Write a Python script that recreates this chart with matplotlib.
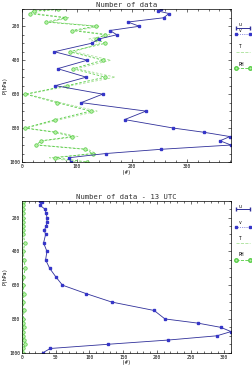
import numpy as np
import matplotlib
matplotlib.use("Agg")
import matplotlib.pyplot as plt
from matplotlib.lines import Line2D
from matplotlib.ticker import MultipleLocator

# pressure levels (hPa)
p = [100, 110, 125, 150, 175, 200, 225, 250, 275, 300, 350, 400, 450, 500,
     550, 600, 650, 700, 750, 800, 825, 850, 875, 900, 925, 950, 975, 1000]

# all hours
n_uv = [254, 248, 268, 258, 193, 214, 160, 173, 140, 127, 59, 119, 65, 117,
        61, 147, 108, 226, 187, 276, 332, 379, 361, 381, 254, 153, 85, 90]
n_rh = [66, 21, 14, 79, 44, 135, 91, 152, 134, 152, 87, 148, 93, 152,
        82, 6, 64, 125, 61, 5, 60, 92, 35, 26, 115, 129, 60, 118]
n_t = [80, 30, 25, 85, 52, 142, 100, 160, 122, 142, 95, 162, 100, 170,
       90, 10, 70, 137, 70, 8, 66, 102, 40, 32, 120, 135, 50, 100]

# 13 UTC
n_uv13 = [27, 29, 26, 34, 36, 37, 37, 36, 33, 35, 32, 37, 35, 41,
          50, 60, 95, 133, 196, 212, 261, 295, 310, 289, 217, 128, 42, 31]
n_rh13 = [1, 2, 1, 2, 1, 2, 1, 2, 2, 2, 4, 2, 3, 5,
          2, 2, 3, 2, 3, 2, 2, 3, 2, 2, 3, 5, 2, 1]
n_t13 = [0] * len(p)

titles = ["Number of data", "Number of data - 13 UTC"]
leg_labels = ["u", "v", "T", "RH"]

c_u = "#30309a"
c_v = "#3535c8"
c_t = "#a8e098"
c_rh = "#55cc44"

W, H = 253, 369
fig = plt.figure(figsize=(W / 100, H / 100), dpi=100)
fig.patch.set_facecolor("white")


def frac_box(l, t, r, b):
    return [l / W, 1 - b / H, (r - l) / W, (b - t) / H]


def legend(tops):
    # tops: (label y, line y) pixel pairs for u, v, T, RH
    x0, x1 = 236.5, 250.5
    styles = [
        dict(color=c_u, lw=0.7, ls="-", marker="|", ms=2.5),
        dict(color=c_v, lw=0.5, ls=":", marker="s", ms=2),
        dict(color=c_t, lw=0.6, ls="--"),
        dict(color=c_rh, lw=0.6, ls="--", marker="o", ms=2.5, mfc="#b8f0a8"),
    ]
    for lab, (ty, ly), st in zip(leg_labels, tops, styles):
        fig.text((x0 + 2) / W, 1 - ty / H, lab, fontsize=3.3,
                 family="DejaVu Sans Mono", va="center", ha="left")
        fig.add_artist(Line2D([x0 / W, x1 / W], [1 - ly / H, 1 - ly / H],
                              markevery=[0, 1], **st))


def panel(box, uv, t, rh, title, xmax, minor_x):
    ax = fig.add_axes(frac_box(*box))
    ax.plot(t, p, color=c_t, lw=0.6, ls=(0, (3, 2)))
    ax.plot(rh, p, color=c_rh, lw=0.6, ls=(0, (3, 2)), marker="o", ms=2.5,
            mfc="#b8f0a8", mec=c_rh, mew=0.5)
    ax.plot(uv, p, color=c_u, lw=0.6)
    ax.plot(uv, p, ls="none", marker="s", ms=2, color=c_v)
    ax.set_xlim(0, xmax)
    ax.set_ylim(1000, 100)
    ax.yaxis.set_major_locator(MultipleLocator(200))
    ax.yaxis.set_minor_locator(MultipleLocator(50))
    ax.xaxis.set_minor_locator(MultipleLocator(minor_x))
    ax.tick_params(which="both", direction="in", top=True, right=True,
                   labelsize=3.3, width=0.4, pad=1.5)
    ax.tick_params(which="major", length=2.5)
    ax.tick_params(which="minor", length=1.3)
    for lab in ax.get_xticklabels() + ax.get_yticklabels():
        lab.set_family("DejaVu Sans Mono")
    for s in ax.spines.values():
        s.set_linewidth(0.5)
    ax.set_title(title, fontsize=5.2, family="DejaVu Sans Mono", pad=1.5,
                 color="#333333")
    ax.set_xlabel("(#)", fontsize=3.5, labelpad=0.5, family="DejaVu Sans Mono")
    ax.set_ylabel("P(hPa)", fontsize=3.5, labelpad=1, family="DejaVu Sans Mono")
    return ax


ax1 = panel((22, 9.3, 231, 162), n_uv, n_t, n_rh, titles[0], max(n_uv), 20)
ax1.xaxis.set_major_locator(MultipleLocator(100))
legend([(24, 28), (31, 34.3), (47, 52.3), (64.3, 68.3)])

ax2 = panel((22, 200.7, 231, 352.7), n_uv13, n_t13, n_rh13, titles[1],
            max(n_uv13), 10)
ax2.xaxis.set_major_locator(MultipleLocator(50))
legend([(206, 209), (222.3, 226.7), (238.3, 243.3), (255, 260)])

fig.savefig("out.png", dpi=100)
